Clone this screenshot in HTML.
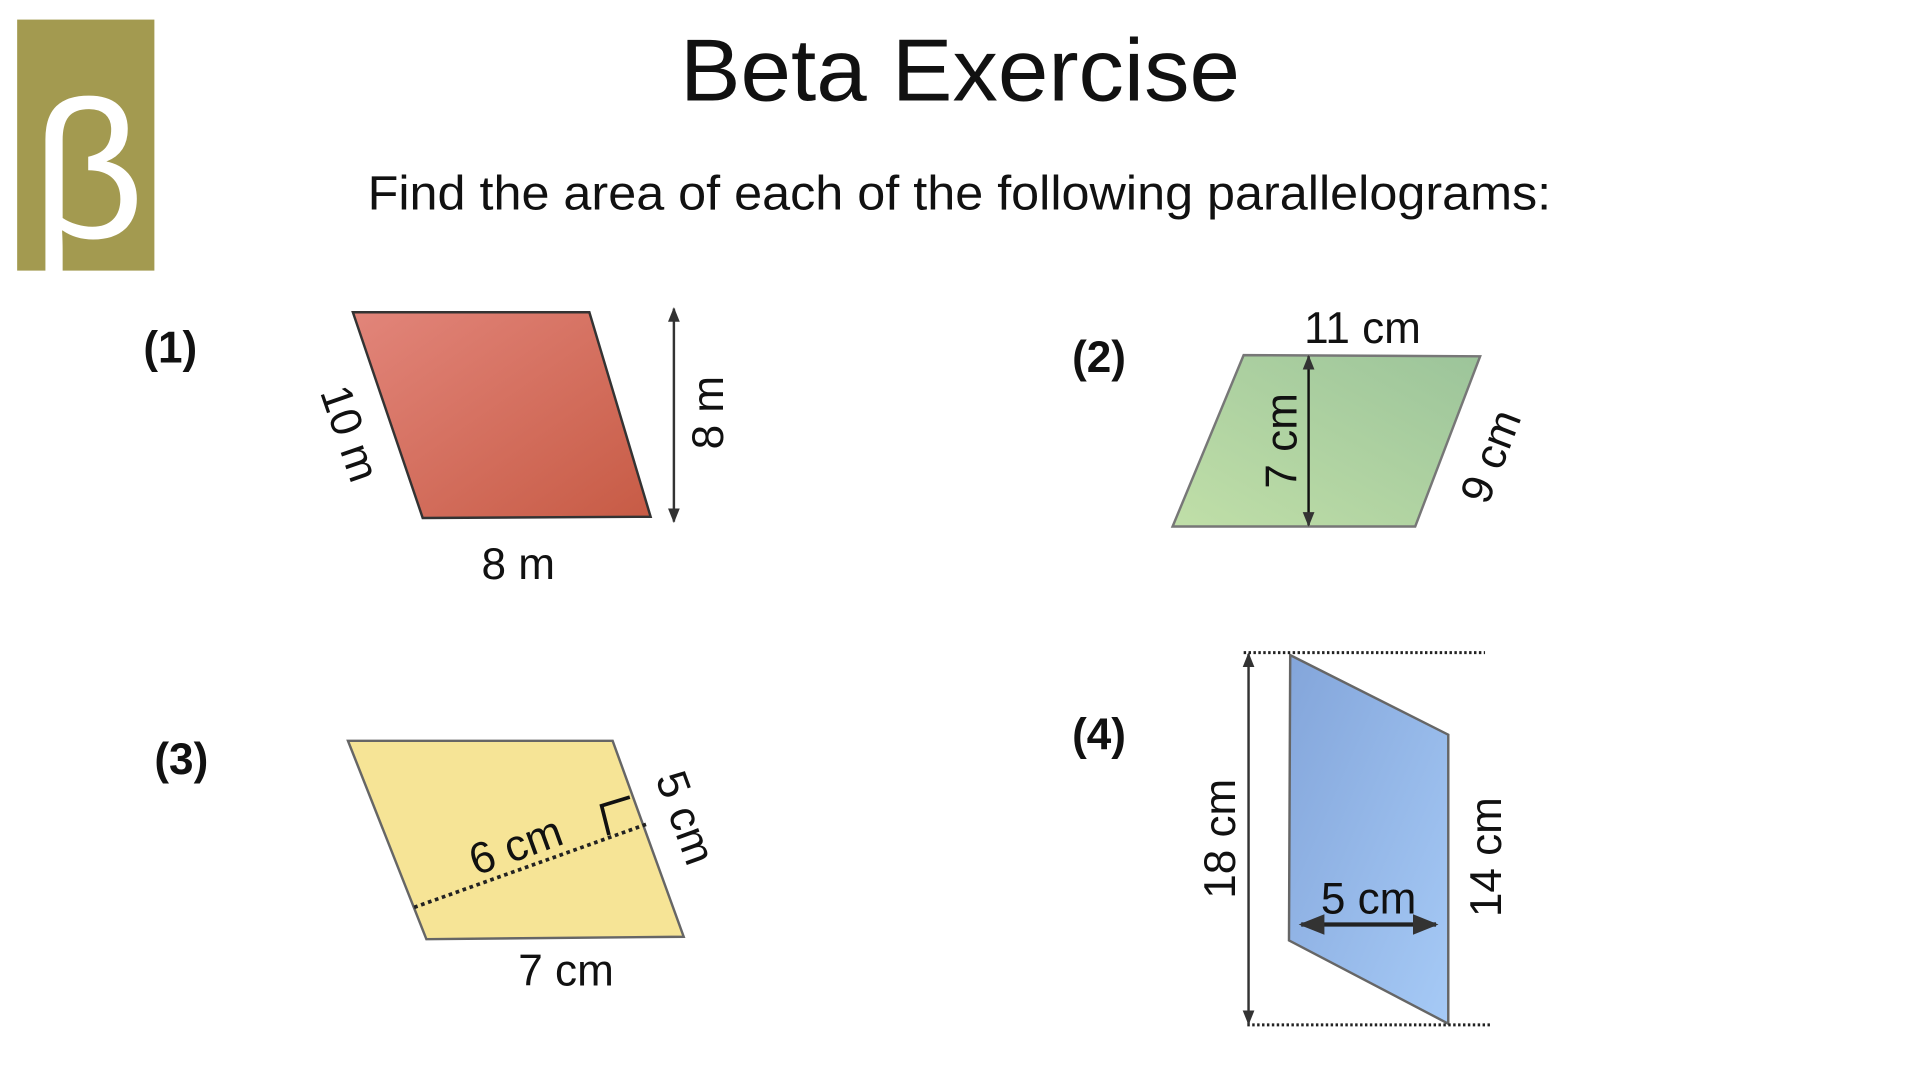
<!DOCTYPE html>
<html><head><meta charset="utf-8"><style>
html,body{margin:0;padding:0;background:#fff;width:1920px;height:1080px;overflow:hidden}
svg{display:block}
text{font-family:"Liberation Sans",sans-serif;fill:#111}
</style></head><body>
<svg width="1920" height="1080" viewBox="0 0 1567 882" preserveAspectRatio="none" xmlns="http://www.w3.org/2000/svg">
<defs>
<linearGradient id="r" x1="0" y1="0" x2="1" y2="1"><stop offset="0" stop-color="#e2857a"/><stop offset="1" stop-color="#c75b45"/></linearGradient>
<linearGradient id="g" x1="0" y1="1" x2="1" y2="0"><stop offset="0" stop-color="#c0dfa8"/><stop offset="1" stop-color="#9cc49a"/></linearGradient>
<linearGradient id="b" x1="0" y1="0" x2="1" y2="1"><stop offset="0" stop-color="#83a5da"/><stop offset="1" stop-color="#a6caf6"/></linearGradient>
<marker id="ah" viewBox="0 0 10 10" refX="9" refY="5" markerWidth="6" markerHeight="6" orient="auto-start-reverse"><path d="M0,1 L10,5 L0,9 z" fill="#333"/></marker>
</defs>
<rect x="14" y="16" width="112" height="205" fill="#a39a50"/>
<text x="72" y="194" font-size="160" text-anchor="middle" style="fill:#fff;font-weight:300">β</text>
<text x="555" y="82" font-size="72" textLength="457" lengthAdjust="spacingAndGlyphs">Beta Exercise</text>
<text x="300" y="171" font-size="39" textLength="966" lengthAdjust="spacingAndGlyphs">Find the area of each of the following parallelograms:</text>

<text x="117" y="296" font-size="36" font-weight="bold">(1)</text>
<polygon points="288,255 481,255 531,422 345,423" fill="url(#r)" stroke="#333" stroke-width="2"/>
<line x1="550" y1="252" x2="550" y2="426" stroke="#333" stroke-width="2" marker-start="url(#ah)" marker-end="url(#ah)"/>
<text transform="translate(590,337) rotate(-90)" font-size="36" text-anchor="middle">8 m</text>
<text transform="translate(274,358) rotate(71)" font-size="36" text-anchor="middle">10 m</text>
<text x="423" y="473" font-size="36" text-anchor="middle">8 m</text>

<text x="875" y="304" font-size="36" font-weight="bold">(2)</text>
<polygon points="1015,290 1208,291 1155,430 957,430" fill="url(#g)" stroke="#777" stroke-width="2"/>
<line x1="1068" y1="291" x2="1068" y2="429" stroke="#111" stroke-width="2" marker-start="url(#ah)" marker-end="url(#ah)"/>
<text transform="translate(1058,360) rotate(-90)" font-size="36" text-anchor="middle">7 cm</text>
<text transform="translate(1228,377) rotate(-69)" font-size="36" text-anchor="middle">9 cm</text>
<text x="1112" y="280" font-size="36" text-anchor="middle">11 cm</text>

<text x="126" y="632" font-size="36" font-weight="bold">(3)</text>
<polygon points="284,605 500,605 558,765 348,767" fill="#f6e496" stroke="#666" stroke-width="2"/>
<line x1="338" y1="741" x2="528" y2="673" stroke="#222" stroke-width="3" stroke-dasharray="3,3"/>
<polyline points="497,682 491,658 514,651" fill="none" stroke="#111" stroke-width="3"/>
<text transform="translate(425,702) rotate(-20)" font-size="36" text-anchor="middle">6 cm</text>
<text transform="translate(548,672) rotate(70)" font-size="36" text-anchor="middle">5 cm</text>
<text x="462" y="805" font-size="36" text-anchor="middle">7 cm</text>

<text x="875" y="612" font-size="36" font-weight="bold">(4)</text>
<polygon points="1053,535 1182,600 1182,836 1052,768" fill="url(#b)" stroke="#666" stroke-width="2"/>
<line x1="1015" y1="533" x2="1212" y2="533" stroke="#222" stroke-width="2.5" stroke-dasharray="2,2"/>
<line x1="1018" y1="837" x2="1217" y2="837" stroke="#222" stroke-width="2.5" stroke-dasharray="2,2"/>
<line x1="1019" y1="534" x2="1019" y2="836" stroke="#333" stroke-width="2" marker-start="url(#ah)" marker-end="url(#ah)"/>
<text transform="translate(1008,685) rotate(-90)" font-size="36" text-anchor="middle">18 cm</text>
<text transform="translate(1225,700) rotate(-90)" font-size="36" text-anchor="middle">14 cm</text>
<text x="1117" y="746" font-size="36" text-anchor="middle">5 cm</text>
<line x1="1062" y1="755" x2="1172" y2="755" stroke="#222" stroke-width="3.5" marker-start="url(#ah)" marker-end="url(#ah)"/>
</svg>
</body></html>
